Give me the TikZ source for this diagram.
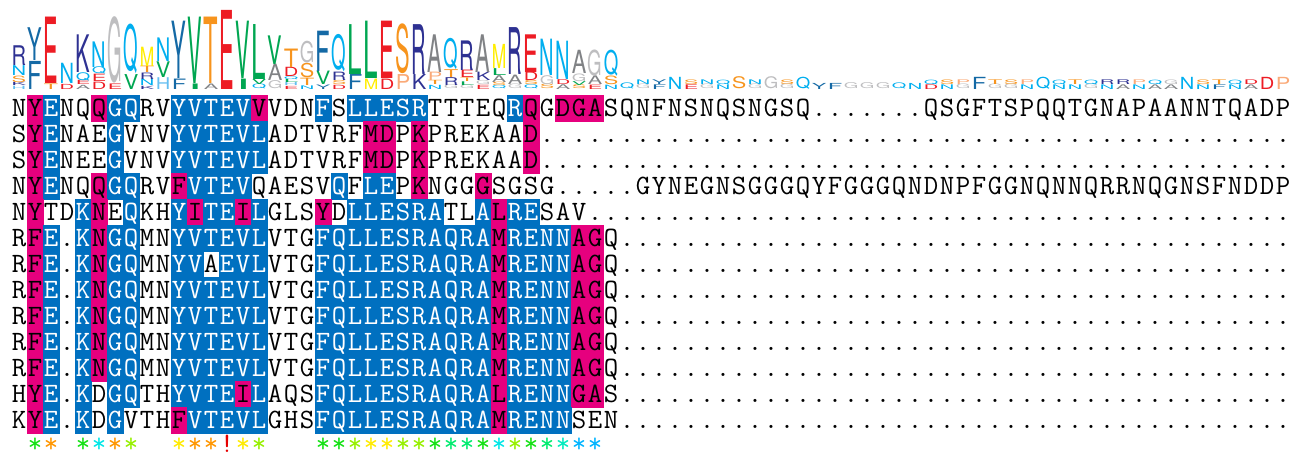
\documentclass[tikz,border=0pt]{standalone}
\usepackage{fontspec}
\usepackage{graphicx}
\newfontfamily\logofont{TeX Gyre Heros}
\newcommand\alnfont{\ttfamily\fontsize{28}{28}\selectfont}
\definecolor{alnblue}{RGB}{0,112,192}
\definecolor{alnmag}{RGB}{230,0,126}
\definecolor{logoA}{RGB}{128,130,133}
\definecolor{logoD}{RGB}{237,28,36}
\definecolor{logoE}{RGB}{237,28,36}
\definecolor{logoF}{RGB}{20,105,165}
\definecolor{logoY}{RGB}{20,105,165}
\definecolor{logoG}{RGB}{190,190,192}
\definecolor{logoH}{RGB}{100,190,240}
\definecolor{logoI}{RGB}{0,166,81}
\definecolor{logoL}{RGB}{0,166,81}
\definecolor{logoV}{RGB}{0,166,81}
\definecolor{logoK}{RGB}{46,49,146}
\definecolor{logoR}{RGB}{46,49,146}
\definecolor{logoM}{RGB}{255,237,0}
\definecolor{logoN}{RGB}{0,174,239}
\definecolor{logoQ}{RGB}{0,174,239}
\definecolor{logoP}{RGB}{250,170,120}
\definecolor{logoS}{RGB}{247,148,29}
\definecolor{logoT}{RGB}{247,148,29}
\definecolor{cgreen}{RGB}{20,225,20}
\definecolor{corange}{RGB}{255,150,0}
\definecolor{ccyan}{RGB}{0,230,230}
\definecolor{clime}{RGB}{150,240,0}
\definecolor{cyellow}{RGB}{255,235,0}
\definecolor{cspring}{RGB}{0,235,110}
\definecolor{caqua}{RGB}{0,235,190}
\definecolor{csky}{RGB}{0,180,255}
\definecolor{cred}{RGB}{230,0,0}
\def\bitpx{18.3}
\def\logobase{89}
\makeatletter
\newcount\alncol
\newcommand\alnrow[3]{\global\alncol=0 \def\alnr{#1}%
  \aln@step#2....................................................................................................\@nil#3wwwwwwwwwwwwwwwwwwwwwwwwwwwwwwwwwwwwwwwwwwwwwwwwwwwwwwwwwwwwwwwwwwwwwwwwwwwwwwwwwwwwwwwwwwwwwwwwwwww\@nil}
\def\aln@step#1#2\@nil#3#4\@nil{%
  \global\advance\alncol by 1
  \aln@cell{#1}{#3}%
  \ifnum\alncol<80 \aln@step#2\@nil#4\@nil\fi}
\def\aln@cell#1#2{%
  \if#2b\node[res,fill=alnblue,draw=alnblue,text=white] (c\alnr-\the\alncol) at (16*\the\alncol+3,82+26*\alnr) {#1};%
  \else\if#2m\node[res,fill=alnmag,draw=alnmag] (c\alnr-\the\alncol) at (16*\the\alncol+3,82+26*\alnr) {#1};%
  \else\node[res] (c\alnr-\the\alncol) at (16*\the\alncol+3,82+26*\alnr) {#1};\fi\fi}
\makeatother
\newcommand\logocol[3]{%
  \gdef\logoH{0}%
  \foreach \aa/\cc in {#3}{\pgfmathparse{\logoH-\cc/#2*ln(\cc/#2)/ln(2)}\xdef\logoH{\pgfmathresult}}%
  \pgfmathparse{(ln(20)/ln(2)-\logoH)*#2/13*\bitpx}\xdef\logoI{\pgfmathresult}%
  \gdef\logoy{0}%
  \foreach \aa/\cc in {#3}{%
    \pgfmathparse{\cc/#2*\logoI}\let\hh\pgfmathresult
    \node[glyph,text=logo\aa] (l#1\aa) at (16*#1+3,\logobase-\logoy) {\resizebox*{14.5pt}{\hh pt}{\logofont\aa}};
    \pgfmathparse{\logoy+\hh}\xdef\logoy{\pgfmathresult}}}
\begin{document}
\begin{tikzpicture}[x=1pt,y=-1pt,
  res/.style={font=\alnfont,inner sep=0pt,outer sep=0pt,minimum width=16pt,minimum height=26pt,
    text height=17pt,text depth=0pt,line width=0.3pt},
  cons/.style={font=\alnfont,inner sep=0pt,outer sep=0pt,text height=17pt,text depth=0pt},
  glyph/.style={inner sep=0pt,outer sep=0pt,anchor=south}]
  \useasboundingbox (0,0) rectangle (1296,453);
  \logocol{1}{13}{H/1,K/1,S/2,N/3,R/6}
  \logocol{2}{13}{F/6,Y/7}
  \logocol{3}{13}{T/1,E/12}
  \logocol{4}{5}{D/1,N/4}
  \logocol{5}{13}{A/1,E/1,Q/2,K/9}
  \logocol{6}{13}{D/2,E/2,Q/2,N/7}
  \logocol{7}{13}{E/1,G/12}
  \logocol{8}{13}{V/3,Q/10}
  \logocol{9}{13}{K/1,N/2,R/2,T/2,M/6}
  \logocol{10}{13}{H/3,V/4,N/6}
  \logocol{11}{13}{F/2,Y/11}
  \logocol{12}{13}{I/1,V/12}
  \logocol{13}{13}{A/1,T/12}
  \logocol{14}{13}{E/13}
  \logocol{15}{13}{I/2,V/11}
  \logocol{16}{13}{Q/1,V/1,L/11}
  \logocol{17}{13}{G/2,A/4,V/7}
  \logocol{18}{13}{E/1,H/1,L/1,Q/1,D/3,T/6}
  \logocol{19}{13}{N/1,T/2,S/4,G/6}
  \logocol{20}{13}{Y/1,V/3,F/9}
  \logocol{21}{13}{D/1,S/1,R/2,Q/9}
  \logocol{22}{13}{F/3,L/10}
  \logocol{23}{13}{M/2,L/11}
  \logocol{24}{13}{D/2,E/11}
  \logocol{25}{13}{P/3,S/10}
  \logocol{26}{13}{K/3,R/10}
  \logocol{27}{13}{N/1,T/1,P/2,A/9}
  \logocol{28}{13}{G/1,R/2,T/2,Q/8}
  \logocol{29}{13}{G/1,L/1,T/1,E/2,R/8}
  \logocol{30}{13}{E/1,G/1,K/2,A/9}
  \logocol{31}{13}{Q/1,S/1,A/2,L/2,M/7}
  \logocol{32}{13}{G/1,A/2,R/10}
  \logocol{33}{13}{Q/1,S/1,D/2,E/9}
  \logocol{34}{11}{S/1,G/2,N/8}
  \logocol{35}{10}{A/1,D/1,N/8}
  \logocol{36}{10}{S/1,V/1,G/2,A/6}
  \logocol{37}{9}{E/1,A/2,G/6}
  \logocol{38}{9}{N/1,S/2,Q/6}
  \logocol{39}{1}{Q/1}
  \logocol{40}{2}{G/1,N/1}
  \logocol{41}{2}{F/1,Y/1}
  \logocol{42}{2}{N/2}
  \logocol{43}{2}{E/1,S/1}
  \logocol{44}{2}{G/1,N/1}
  \logocol{45}{2}{N/1,Q/1}
  \logocol{46}{2}{S/2}
  \logocol{47}{2}{G/1,N/1}
  \logocol{48}{2}{G/2}
  \logocol{49}{2}{G/1,S/1}
  \logocol{50}{2}{Q/2}
  \logocol{51}{1}{Y/1}
  \logocol{52}{1}{F/1}
  \logocol{53}{1}{G/1}
  \logocol{54}{1}{G/1}
  \logocol{55}{1}{G/1}
  \logocol{56}{1}{Q/1}
  \logocol{57}{1}{N/1}
  \logocol{58}{2}{D/1,Q/1}
  \logocol{59}{2}{N/1,S/1}
  \logocol{60}{2}{G/1,P/1}
  \logocol{61}{2}{F/2}
  \logocol{62}{2}{G/1,T/1}
  \logocol{63}{2}{G/1,S/1}
  \logocol{64}{2}{N/1,P/1}
  \logocol{65}{2}{Q/2}
  \logocol{66}{2}{N/1,Q/1}
  \logocol{67}{2}{N/1,T/1}
  \logocol{68}{2}{G/1,Q/1}
  \logocol{69}{2}{N/1,R/1}
  \logocol{70}{2}{A/1,R/1}
  \logocol{71}{2}{N/1,P/1}
  \logocol{72}{2}{A/1,Q/1}
  \logocol{73}{2}{A/1,G/1}
  \logocol{74}{2}{N/2}
  \logocol{75}{2}{N/1,S/1}
  \logocol{76}{2}{F/1,T/1}
  \logocol{77}{2}{N/1,Q/1}
  \logocol{78}{2}{A/1,D/1}
  \logocol{79}{2}{D/2}
  \logocol{80}{2}{P/2}
  \alnrow{1}{NYENQQGQRVYVTEVVVDNFSLLESRTTTEQRQGDGASQNFNSNQSNGSQ.......QSGFTSPQQTGNAPAANNTQADP}{wmbwwmbbwwbbbbbmwwwbwbbbbbwwwwwbmwmmm}
  \alnrow{2}{SYENAEGVNVYVTEVLADTVRFMDPKPREKAAD}{wmbwwwbwwwbbbbbbwwwwwwmmwmwwwwwwm}
  \alnrow{3}{SYENEEGVNVYVTEVLADTVRFMDPKPREKAAD}{wmbwwwbwwwbbbbbbwwwwwwmmwmwwwwwwm}
  \alnrow{4}{NYENQQGQRVFVTEVQAESVQFLEPKNGGGSGSG.....GYNEGNSGGGQYFGGGQNDNPFGGNQNNQRRNQGNSFNDDP}{wmbwwmbbwwmbbbbwwwwwbwbbwmwwwm}
  \alnrow{5}{NYTDKNEQKHYITEILGLSYDLLESRATLALRESAV}{wmwwbmwbwwbmbbmbwwwmwbbbbbbwwbmbb}
  \alnrow{6}{RFE.KNGQMNYVTEVLVTGFQLLESRAQRAMRENNAGQ}{wmbwbmbbwwbbbbbbwwwbbbbbbbbbbbmbbbbmm}
  \alnrow{7}{RFE.KNGQMNYVAEVLVTGFQLLESRAQRAMRENNAGQ}{wmbwbmbbwwbbwbbbwwwbbbbbbbbbbbmbbbbmm}
  \alnrow{8}{RFE.KNGQMNYVTEVLVTGFQLLESRAQRAMRENNAGQ}{wmbwbmbbwwbbbbbbwwwbbbbbbbbbbbmbbbbmm}
  \alnrow{9}{RFE.KNGQMNYVTEVLVTGFQLLESRAQRAMRENNAGQ}{wmbwbmbbwwbbbbbbwwwbbbbbbbbbbbmbbbbmm}
  \alnrow{10}{RFE.KNGQMNYVTEVLVTGFQLLESRAQRAMRENNAGQ}{wmbwbmbbwwbbbbbbwwwbbbbbbbbbbbmbbbbmm}
  \alnrow{11}{RFE.KNGQMNYVTEVLVTGFQLLESRAQRAMRENNAGQ}{wmbwbmbbwwbbbbbbwwwbbbbbbbbbbbmbbbbmm}
  \alnrow{12}{HYE.KDGQTHYVTEILAQSFQLLESRAQRALRENNGAS}{wmbwbwbbwwbbbbmbwwwbbbbbbbbbbbmbbbbmm}
  \alnrow{13}{KYE.KDGVTHFVTEVLGHSFQLLESRAQRAMRENNSEN}{wmbwbwbwwwmbbbbbwwwbbbbbbbbbbbmbbbb}
  \foreach \cc/\kk in {2/cgreen,3/corange,5/cgreen,6/ccyan,7/corange,8/clime,11/cyellow,12/corange,
      13/corange,15/cyellow,16/clime,20/cgreen,21/cgreen,22/clime,23/cyellow,24/cyellow,25/clime,
      26/clime,27/cgreen,28/cspring,29/cspring,30/cgreen,31/ccyan,32/clime,33/cgreen,34/cspring,
      35/caqua,36/csky,37/csky}
    \node[cons,text=\kk] (s\cc) at (16*\cc+3,443.5) {*};
  \node[cons,text=cred] (s14) at (16*14+3,443.5) {!};
\end{tikzpicture}
\end{document}
